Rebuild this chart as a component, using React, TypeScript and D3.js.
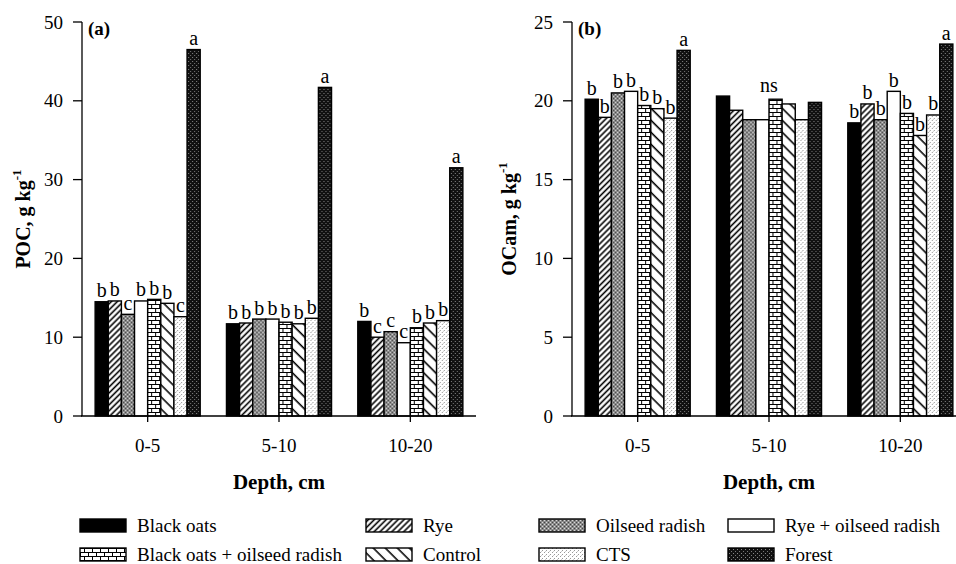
import React from "react";
import * as d3 from "d3";

// depth classes and treatments
const depths = ["0-5", "5-10", "10-20"];
const treatments = [
  "Black oats",
  "Rye",
  "Oilseed radish",
  "Rye + oilseed radish",
  "Black oats + oilseed radish",
  "Control",
  "CTS",
  "Forest",
];

// (a) POC, g/kg  (one array per depth, in treatment order)
const poc0_5 = [14.5, 14.6, 12.9, 14.6, 14.8, 14.3, 12.6, 46.5];
const poc5_10 = [11.7, 11.8, 12.3, 12.3, 11.9, 11.7, 12.4, 41.7];
const poc10_20 = [12.0, 10.0, 10.7, 9.3, 11.2, 11.8, 12.1, 31.5];

// (b) OCam, g/kg
const ocam0_5 = [20.1, 18.95, 20.5, 20.6, 19.7, 19.5, 18.9, 23.2];
const ocam5_10 = [20.3, 19.4, 18.8, 18.8, 20.1, 19.8, 18.8, 19.9];
const ocam10_20 = [18.6, 19.8, 18.8, 20.6, 19.2, 17.8, 19.1, 23.6];

// letters above the bars
const pocLetters0_5 = ["b", "b", "c", "b", "b", "b", "c", "a"];
const pocLetters5_10 = ["b", "b", "b", "b", "b", "b", "b", "a"];
const pocLetters10_20 = ["b", "c", "c", "c", "b", "b", "b", "a"];
const ocamLetters0_5 = ["b", "b", "b", "b", "b", "b", "b", "a"];
const ocamLetters5_10 = ["", "", "", "", "", "", "", ""];
const ocamLetters10_20 = ["b", "b", "b", "b", "b", "b", "b", "a"];
const ocamGroupNote = ["", "ns", ""];

const pocTicks = [0, 10, 20, 30, 40, 50];
const ocamTicks = [0, 5, 10, 15, 20, 25];

const fills = [
  "#000",
  "url(#p-rye)",
  "url(#p-oil)",
  "#fff",
  "url(#p-brick)",
  "url(#p-ctrl)",
  "url(#p-cts)",
  "url(#p-forest)",
];

const FONT = '"Liberation Serif", "DejaVu Serif", "Times New Roman", Times, serif';
const ts = { fontFamily: FONT };

function Patterns() {
  return (
    <defs>
      <pattern id="p-rye" patternUnits="userSpaceOnUse" width="4.2" height="4.2" patternTransform="rotate(45)">
        <rect width="4.2" height="4.2" fill="#fff" />
        <line x1="2.1" y1="0" x2="2.1" y2="4.2" stroke="#000" strokeWidth="1.6" />
      </pattern>
      <pattern id="p-ctrl" patternUnits="userSpaceOnUse" width="8.5" height="8.5" patternTransform="rotate(-45)">
        <rect width="8.5" height="8.5" fill="#fff" />
        <line x1="4" y1="0" x2="4" y2="8.5" stroke="#000" strokeWidth="1.6" />
      </pattern>
      <pattern id="p-brick" patternUnits="userSpaceOnUse" width="8" height="8">
        <rect width="8" height="8" fill="#fff" />
        <line x1="0" y1="0.5" x2="8" y2="0.5" stroke="#000" strokeWidth="1" />
        <line x1="0" y1="4.5" x2="8" y2="4.5" stroke="#000" strokeWidth="1" />
        <line x1="0.5" y1="0" x2="0.5" y2="4" stroke="#000" strokeWidth="1" />
        <line x1="4.5" y1="4" x2="4.5" y2="8" stroke="#000" strokeWidth="1" />
      </pattern>
      <pattern id="p-oil" patternUnits="userSpaceOnUse" width="4" height="4">
        <rect width="4" height="4" fill="#8a8a8a" />
        <rect x="0" y="0" width="1" height="1" fill="#d8d8d8" />
        <rect x="2" y="2" width="1" height="1" fill="#d8d8d8" />
        <rect x="2" y="0" width="1" height="1" fill="#444" />
        <rect x="0" y="2" width="1" height="1" fill="#444" />
      </pattern>
      <pattern id="p-cts" patternUnits="userSpaceOnUse" width="4" height="4">
        <rect width="4" height="4" fill="#fff" />
        <rect x="0" y="0" width="1" height="1" fill="#999" />
        <rect x="2" y="2" width="1" height="1" fill="#999" />
        <rect x="1" y="3" width="1" height="1" fill="#ccc" />
      </pattern>
      <pattern id="p-forest" patternUnits="userSpaceOnUse" width="4" height="4">
        <rect width="4" height="4" fill="#111" />
        <rect x="1" y="1" width="1" height="1" fill="#888" />
        <rect x="3" y="3" width="1" height="1" fill="#777" />
      </pattern>
    </defs>
  );
}

type PanelProps = {
  x0: number;
  x1: number;
  maxY: number;
  ticks: number[];
  series: number[][];
  letters: string[][];
  notes?: string[];
  tag: string;
  yLabel: string;
  yLabelX: number;
};

function Panel(props: PanelProps) {
  const top = 22;
  const base = 416;
  const y = d3.scaleLinear().domain([0, props.maxY]).range([base, top]);
  const xg = d3.scaleBand().domain(depths).range([props.x0, props.x1]).paddingInner(0.2).paddingOuter(0.1);
  const xs = d3.scaleBand().domain(treatments).range([0, xg.bandwidth()]).padding(0);

  return (
    <g fill="#000">
      {depths.map((d, gi) => (
        <g key={d} transform={`translate(${xg(d)},0)`}>
          {props.series[gi].map((v, i) => (
            <rect
              key={i}
              x={xs(treatments[i])}
              y={y(v)}
              width={xs.bandwidth()}
              height={base - y(v)}
              fill={fills[i]}
              stroke="#000"
              strokeWidth={1.4}
            />
          ))}
          {props.letters[gi].map((l, i) =>
            l ? (
              <text
                key={"l" + i}
                style={ts}
                x={(xs(treatments[i]) || 0) + xs.bandwidth() / 2}
                y={y(props.series[gi][i]) - 4.5}
                textAnchor="middle"
                fontSize={20}
              >
                {l}
              </text>
            ) : null
          )}
          {props.notes && props.notes[gi] ? (
            <text
              style={ts}
              x={xg.bandwidth() / 2}
              y={y(d3.max(props.series[gi]) || 0) - 4}
              textAnchor="middle"
              fontSize={20}
            >
              {props.notes[gi]}
            </text>
          ) : null}
        </g>
      ))}

      {/* axes */}
      <line x1={props.x0} y1={top} x2={props.x0} y2={base} stroke="#000" strokeWidth={1.3} />
      <line x1={props.x0 - 1} y1={base} x2={props.x1} y2={base} stroke="#000" strokeWidth={1.3} />
      {props.ticks.map((t) => (
        <g key={t}>
          <line x1={props.x0 - 9} x2={props.x0} y1={y(t)} y2={y(t)} stroke="#000" strokeWidth={1.3} />
          <text style={ts} x={props.x0 - 19} y={y(t) + 6.5} textAnchor="end" fontSize={19}>
            {t}
          </text>
        </g>
      ))}
      {depths.map((d) => {
        const cx = (xg(d) || 0) + xg.bandwidth() / 2;
        return (
          <g key={"t" + d}>
            <line x1={cx} x2={cx} y1={base} y2={base + 6} stroke="#000" strokeWidth={1.3} />
            <text style={ts} x={cx} y={452} textAnchor="middle" fontSize={19}>
              {d}
            </text>
          </g>
        );
      })}

      <text style={ts} x={(props.x0 + props.x1) / 2} y={489} textAnchor="middle" fontSize={21} fontWeight="bold">
        Depth, cm
      </text>
      <text style={ts} x={props.x0 + 6} y={35} fontSize={19} fontWeight="bold">
        {props.tag}
      </text>
      <text
        style={ts}
        transform={`translate(${props.yLabelX},${(top + base) / 2}) rotate(-90)`}
        textAnchor="middle"
        fontSize={20}
        fontWeight="bold"
      >
        {props.yLabel}
        <tspan dy={-9} fontSize={13}>
          -1
        </tspan>
      </text>
    </g>
  );
}

const legendCols = [80, 366, 539, 728];

export default function App() {
  return (
    <svg
      width={956}
      height={564}
      style={{ position: "absolute", left: 0, top: 0, background: "#fff", fontFamily: FONT }}
    >
      <Patterns />
      <rect width={956} height={564} fill="#fff" />
      <Panel
        x0={82}
        x1={476}
        maxY={50}
        ticks={pocTicks}
        series={[poc0_5, poc5_10, poc10_20]}
        letters={[pocLetters0_5, pocLetters5_10, pocLetters10_20]}
        tag="(a)"
        yLabel="POC, g kg"
        yLabelX={30}
      />
      <Panel
        x0={572}
        x1={966}
        maxY={25}
        ticks={ocamTicks}
        series={[ocam0_5, ocam5_10, ocam10_20]}
        letters={[ocamLetters0_5, ocamLetters5_10, ocamLetters10_20]}
        notes={ocamGroupNote}
        tag="(b)"
        yLabel="OCam, g kg"
        yLabelX={516}
      />
      <g>
        {treatments.map((t, i) => {
          const col = i % 4;
          const row = Math.floor(i / 4);
          const sy = 519 + row * 29;
          return (
            <g key={t}>
              <rect
                x={legendCols[col]}
                y={sy}
                width={46}
                height={13}
                fill={fills[i]}
                stroke="#000"
                strokeWidth={1.4}
              />
              <text style={ts} x={legendCols[col] + 57} y={sy + 13} fontSize={19}>
                {t}
              </text>
            </g>
          );
        })}
      </g>
    </svg>
  );
}
